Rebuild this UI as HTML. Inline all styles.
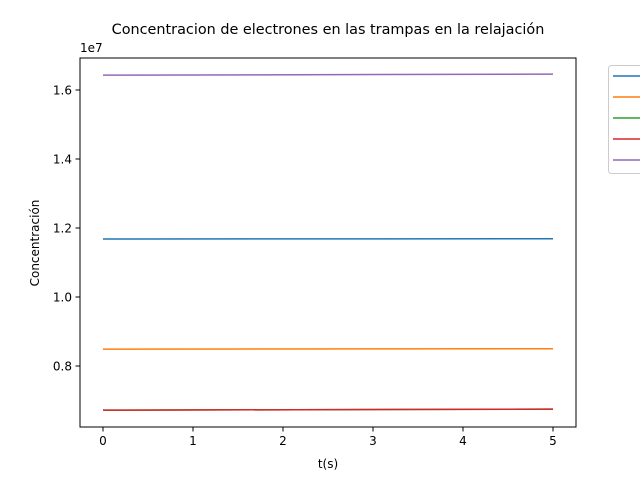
<!DOCTYPE html>
<html><head><meta charset="utf-8"><style>
body{margin:0;background:#fff;}
svg{font-family:"DejaVu Sans","Liberation Sans",sans-serif;}
</style></head><body>
<svg id="c" width="640" height="480" xmlns="http://www.w3.org/2000/svg">
<rect width="640" height="480" fill="#fff"/>
<text x="328" y="34" font-size="14.4" text-anchor="middle">Concentracion de electrones en las trampas en la relajación</text>
<text x="80" y="52" font-size="12">1e7</text>
<text x="328" y="468" font-size="12" text-anchor="middle">t(s)</text>
<text transform="translate(39,243) rotate(-90)" font-size="12" text-anchor="middle">Concentración</text>
<g id="marks"></g>
<rect x="80" y="58" width="496" height="369" fill="none" stroke="#000" stroke-width="1"/>
<rect x="608.5" y="65.5" width="40" height="108" rx="3" fill="#fff" stroke="#ccc"/>
<g id="leg"></g>
</svg>
<script>
const times=[0,5];
const xTicks=[0,1,2,3,4,5];
const yTicks=[0.8e7,1.0e7,1.2e7,1.4e7,1.6e7];
const yTickLabels=["0.8","1.0","1.2","1.4","1.6"];
const s1=[1.168e7,1.169e7];
const s2=[0.849e7,0.850e7];
const s3=[0.672e7,0.675e7];
const s4=[0.672e7,0.675e7];
const s5=[1.643e7,1.646e7];
const series=[s1,s2,s3,s4,s5];
const colors=["#1f77b4","#ff7f0e","#2ca02c","#d62728","#9467bd"];
const X=t=>103+t*90;
const Y=v=>366-(v-0.8e7)*345e-7;
const ns="http://www.w3.org/2000/svg";
const g=document.getElementById('marks');
function mk(tag,at,parent){const e=document.createElementNS(ns,tag);for(const k in at)e.setAttribute(k,at[k]);parent.appendChild(e);return e;}
xTicks.forEach(t=>{
 const l=mk('line',{x1:X(t),x2:X(t),y1:427,y2:431.5,stroke:'#000'},g);
 
 
 const tx=mk('text',{x:X(t),y:445,'font-size':12,'text-anchor':'middle'},g);tx.textContent=t;
 
 
});
yTicks.forEach((v,i)=>{
 const l=mk('line',{x1:75.5,x2:80,y1:Y(v),y2:Y(v),stroke:'#000'},g);
 
 
 const tx=mk('text',{x:72,y:Y(v)+4.5,'font-size':12,'text-anchor':'end'},g);tx.textContent=yTickLabels[i];
 
 
});
series.forEach((s,i)=>{
 const p=mk('polyline',{points:s.map((v,j)=>X(times[j])+','+Y(v)).join(' '),fill:'none',stroke:colors[i],'stroke-width':1.5},g);
 
 
 const ll=mk('line',{x1:613,x2:641,y1:76+i*21,y2:76+i*21,stroke:colors[i],'stroke-width':1.5},document.getElementById('leg'));
 
 
});
</script>
</body></html>
